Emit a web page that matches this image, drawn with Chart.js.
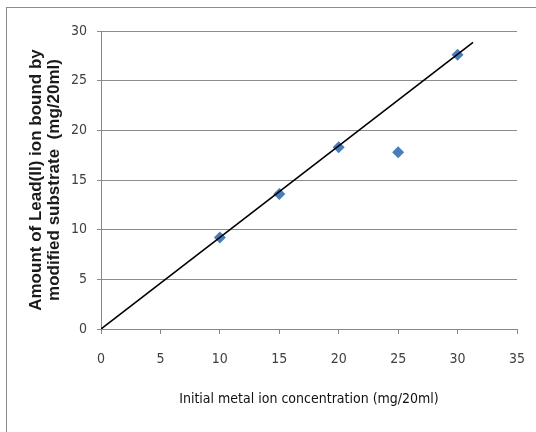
<!DOCTYPE html>
<html>
<head>
<meta charset="utf-8">
<script src="https://cdn.jsdelivr.net/npm/chart.js@4"></script>
<style>
  html, body { margin: 0; padding: 0; background: #fff; }
  #frame { position: absolute; left: 6px; top: 7px; width: 540px; height: 440px; border: 1px solid #8c8c8c; box-sizing: border-box; }
  #wrap { position: absolute; left: 0; top: 0; width: 536px; height: 432px; }
</style>
</head>
<body>
<div id="frame"></div>
<div id="wrap"><canvas id="c" width="536" height="432"></canvas></div>
<script>
const concentrations = [10, 15, 20, 25, 30];
const leadBound = [9.2, 13.6, 18.3, 17.8, 27.6];
const trendX = [0, 31.3];
const trendY = [0, 28.85];
const xTicks = [0, 5, 10, 15, 20, 25, 30, 35];
const yTicks = [0, 5, 10, 15, 20, 25, 30];
const xTitle = 'Initial metal ion concentration (mg/20ml)';
const yTitle = ['Amount of Lead(II) ion bound by', 'modified substrate  (mg/20ml)'];

const tickFont = { family: '"Liberation Sans Narrow", "DejaVu Sans Condensed", "Open Sans", sans-serif', size: 14 };

new Chart(document.getElementById('c'), {
  type: 'scatter',
  data: {
    datasets: [
      {
        label: 'data',
        data: concentrations.map((x, i) => ({ x: x, y: leadBound[i] })),
        pointStyle: 'rectRot',
        pointRadius: 6,
        backgroundColor: '#4a7ebb',
        borderColor: '#4a7ebb',
        borderWidth: 0,
        showLine: false,
        order: 2
      },
      {
        label: 'trend',
        data: trendX.map((x, i) => ({ x: x, y: trendY[i] })),
        showLine: true,
        borderColor: '#000000',
        borderWidth: 1.6,
        pointRadius: 0,
        fill: false,
        order: 1
      }
    ]
  },
  options: {
    responsive: false,
    animation: false,
    events: [],
    layout: { padding: { left: 0, top: 31, right: 19, bottom: 0 } },
    plugins: { legend: { display: false }, tooltip: { enabled: false } },
    scales: {
      x: {
        type: 'linear',
        min: 0, max: 35,
        afterBuildTicks: s => { s.ticks = xTicks.map(v => ({ value: v })); },
        afterFit: s => { s.height = 103; s.paddingRight = 0; s.paddingLeft = 0; },
        grid: { drawOnChartArea: false, drawTicks: true, tickLength: 5, color: '#868686' },
        border: { color: '#868686', width: 1 },
        ticks: { font: tickFont, color: '#404040', padding: 17, maxRotation: 0 },
        title: {
          display: true, text: xTitle, color: '#111111',
          font: { family: '"Liberation Sans Narrow", "DejaVu Sans Condensed", sans-serif', size: 14 },
          padding: { top: 0, bottom: 24 }
        }
      },
      y: {
        type: 'linear',
        min: 0, max: 30,
        afterBuildTicks: s => { s.ticks = yTicks.map(v => ({ value: v })); },
        afterFit: s => { s.width = 101; s.paddingTop = 0; s.paddingBottom = 0; },
        grid: { drawOnChartArea: true, drawTicks: true, tickLength: 4, color: '#8c8c8c' },
        border: { color: '#868686', width: 1 },
        ticks: { font: tickFont, color: '#404040', padding: 10 },
        title: {
          display: true, text: yTitle, color: '#1a1a1a',
          font: { family: '"Liberation Sans", Arial, sans-serif', size: 17, weight: 'bold', lineHeight: 1.06 },
          padding: { top: 27, bottom: 0 }
        }
      }
    }
  }
});
</script>
</body>
</html>
